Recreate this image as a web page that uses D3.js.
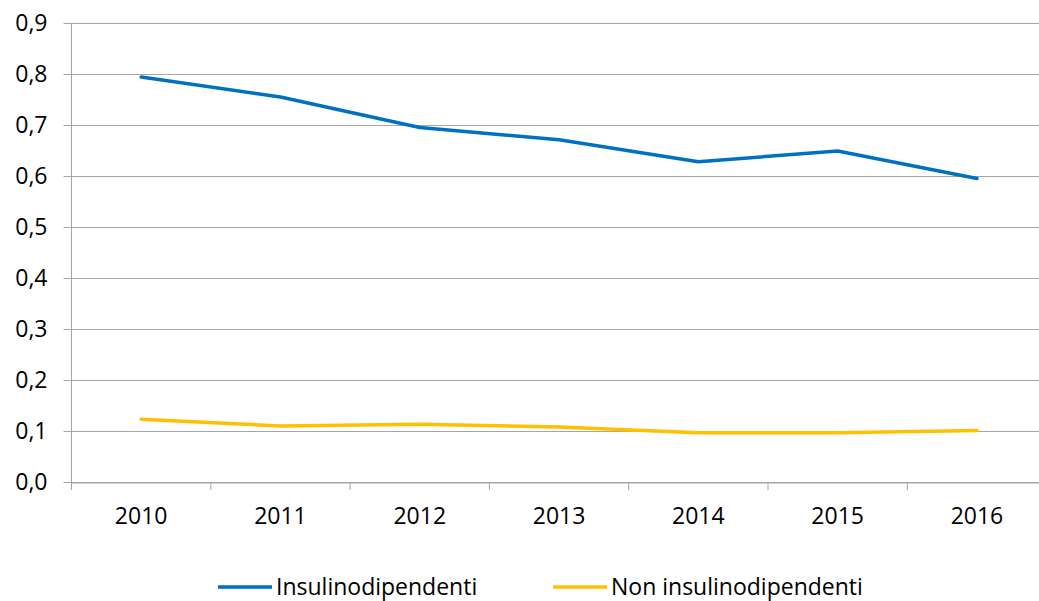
<!DOCTYPE html>
<html>
<head>
<meta charset="utf-8">
<script src="https://cdn.jsdelivr.net/npm/d3@7"></script>
<style>
  body { margin: 0; background: #fff; }
  svg { display: block; font-family: "Open Sans", sans-serif; }
</style>
</head>
<body>
<div id="chart"></div>
<script>
// dati
const years = ['2010', '2011', '2012', '2013', '2014', '2015', '2016'];
const insulino = [0.794, 0.755, 0.695, 0.671, 0.628, 0.649, 0.595];
const nonInsulino = [0.123, 0.110, 0.113, 0.108, 0.0965, 0.0965, 0.101];
const yTicks = [0, 0.1, 0.2, 0.3, 0.4, 0.5, 0.6, 0.7, 0.8, 0.9];
const seriesNames = ['Insulinodipendenti', 'Non insulinodipendenti'];
const seriesColors = ['#0070C0', '#FFC000'];

const width = 1039, height = 601;
const fontSize = 23;
const svg = d3.select('#chart').append('svg')
  .attr('width', width)
  .attr('height', height);

const x = d3.scaleBand().domain(years).range([71.5, 71.5 + 7 * 139.3]);
const y = d3.scaleLinear().domain([0, 0.9]).range([482, 23]);
const fmt = (d) => d3.format('.1f')(d).replace('.', ',');

// griglia + asse y
const yAxis = svg.append('g')
  .attr('transform', 'translate(71.5,0)')
  .call(d3.axisLeft(y).tickValues(yTicks).tickFormat(fmt).tickSize(8).tickPadding(16));
yAxis.select('.domain').remove();
yAxis.selectAll('.tick line').attr('stroke', '#a6a6a6').attr('x1', -8).attr('x2', width);
yAxis.selectAll('.tick text').attr('font-size', fontSize).attr('fill', '#000').attr('font-family', '"Open Sans", sans-serif');

// asse verticale
svg.append('line')
  .attr('x1', 71.5).attr('x2', 71.5)
  .attr('y1', y(0.9)).attr('y2', y(0))
  .attr('stroke', '#a6a6a6');

// asse x
const xAxis = svg.append('g')
  .attr('transform', `translate(0,${y(0) + 0.5})`)
  .call(d3.axisBottom(x).tickSize(0).tickPadding(25));
xAxis.select('.domain').attr('stroke', '#a6a6a6');
xAxis.selectAll('.tick text').attr('font-size', fontSize).attr('fill', '#000').attr('font-family', '"Open Sans", sans-serif');
svg.append('g').selectAll('line')
  .data(d3.range(years.length + 1))
  .join('line')
  .attr('x1', (i) => 71.5 + i * x.step())
  .attr('x2', (i) => 71.5 + i * x.step())
  .attr('y1', y(0))
  .attr('y2', y(0) + 8)
  .attr('stroke', '#a6a6a6');

// linee
const line = d3.line()
  .x((d, i) => x(years[i]) + x.bandwidth() / 2)
  .y((d) => y(d));

[insulino, nonInsulino].forEach((vals, i) => {
  svg.append('path')
    .datum(vals)
    .attr('fill', 'none')
    .attr('stroke', seriesColors[i])
    .attr('stroke-width', 3.5)
    .attr('stroke-linejoin', 'round')
    .attr('stroke-linecap', 'round')
    .attr('d', line);
});

// legenda
const legendX = [218, 553];
const legend = svg.append('g').selectAll('g')
  .data(seriesNames)
  .join('g')
  .attr('transform', (d, i) => `translate(${legendX[i]},587)`);
legend.append('line')
  .attr('x1', 0).attr('x2', 54)
  .attr('stroke', (d, i) => seriesColors[i])
  .attr('stroke-width', 3.5);
legend.append('text')
  .attr('x', 58)
  .attr('dy', '0.35em')
  .attr('font-size', fontSize)
  .text((d) => d);
</script>
</body>
</html>
